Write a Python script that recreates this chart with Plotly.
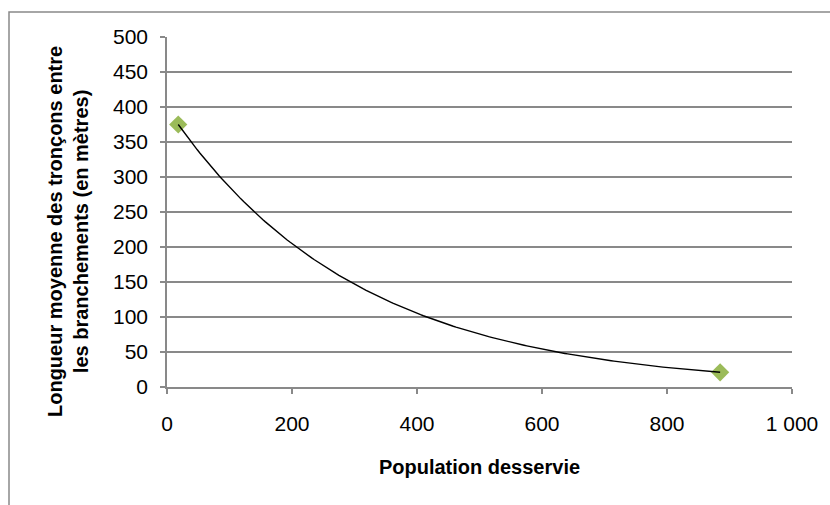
import numpy as np
import plotly.graph_objects as go

# Data
population = [18, 885]
longueur = [375, 21]

x_tickvals = [0, 200, 400, 600, 800, 1000]
x_ticktext = ["0", "200", "400", "600", "800", "1 000"]
y_tickvals = [0, 50, 100, 150, 200, 250, 300, 350, 400, 450, 500]

# Exponential trendline fitted to the data (as Excel does)
b, ln_a = np.polyfit(np.array(population, float), np.log(np.array(longueur, float)), 1)
xs = np.linspace(min(population), max(population), 200)
ys = np.exp(ln_a) * np.exp(b * xs)

W, H = 830, 505
L, R, T, B = 167, 38, 37, 118
pw, ph = W - L - R, H - T - B

def px2x(px):
    return (px - L) / pw

def py2y(py):
    return (H - B - py) / ph

fig = go.Figure()
fig.add_trace(go.Scatter(
    x=population, y=longueur, mode="markers",
    marker=dict(symbol="diamond", size=14, color="#9BBB59", line=dict(width=0)),
    showlegend=False, hoverinfo="x+y"))
fig.add_trace(go.Scatter(
    x=xs, y=ys, mode="lines", line=dict(color="black", width=1.4),
    showlegend=False, hoverinfo="skip"))

font_main = "Liberation Sans"
grey = "#898989"

fig.update_layout(
    width=W, height=H,
    margin=dict(l=L, r=R, t=T, b=B),
    paper_bgcolor="white", plot_bgcolor="white",
    font=dict(family=font_main, color="black", size=21),
    shapes=[dict(type="rect", xref="paper", yref="paper",
                 x0=px2x(9), x1=px2x(840), y0=py2y(520), y1=py2y(12),
                 line=dict(color=grey, width=1.5), layer="below")],
    annotations=[dict(
        text="<b>Longueur moyenne des tronçons entre<br>les branchements (en mètres)</b>",
        textangle=-90, xref="paper", yref="paper",
        x=px2x(68), y=py2y(231), xanchor="center", yanchor="middle",
        showarrow=False, font=dict(size=20, family=font_main, color="black"))],
    xaxis=dict(
        range=[0, 1000], tickvals=x_tickvals, ticktext=x_ticktext,
        showgrid=False, zeroline=False, showline=True, linecolor=grey, linewidth=1.5,
        ticks="outside", ticklen=5, tickcolor=grey, tickwidth=1.5,
        tickfont=dict(size=21, family=font_main),
        ticklabelstandoff=12,
        title=dict(text="<b>Population desservie</b>", font=dict(size=20, family=font_main), standoff=26),
    ),
    yaxis=dict(
        range=[0, 500], tickvals=y_tickvals,
        showgrid=True, gridcolor=grey, gridwidth=1.5,
        zeroline=False, showline=True, linecolor=grey, linewidth=1.5,
        ticks="outside", ticklen=5, tickcolor=grey, tickwidth=1.5,
        tickfont=dict(size=21, family=font_main),
        ticklabelstandoff=8,
    ),
)

fig.write_html("out.html")
